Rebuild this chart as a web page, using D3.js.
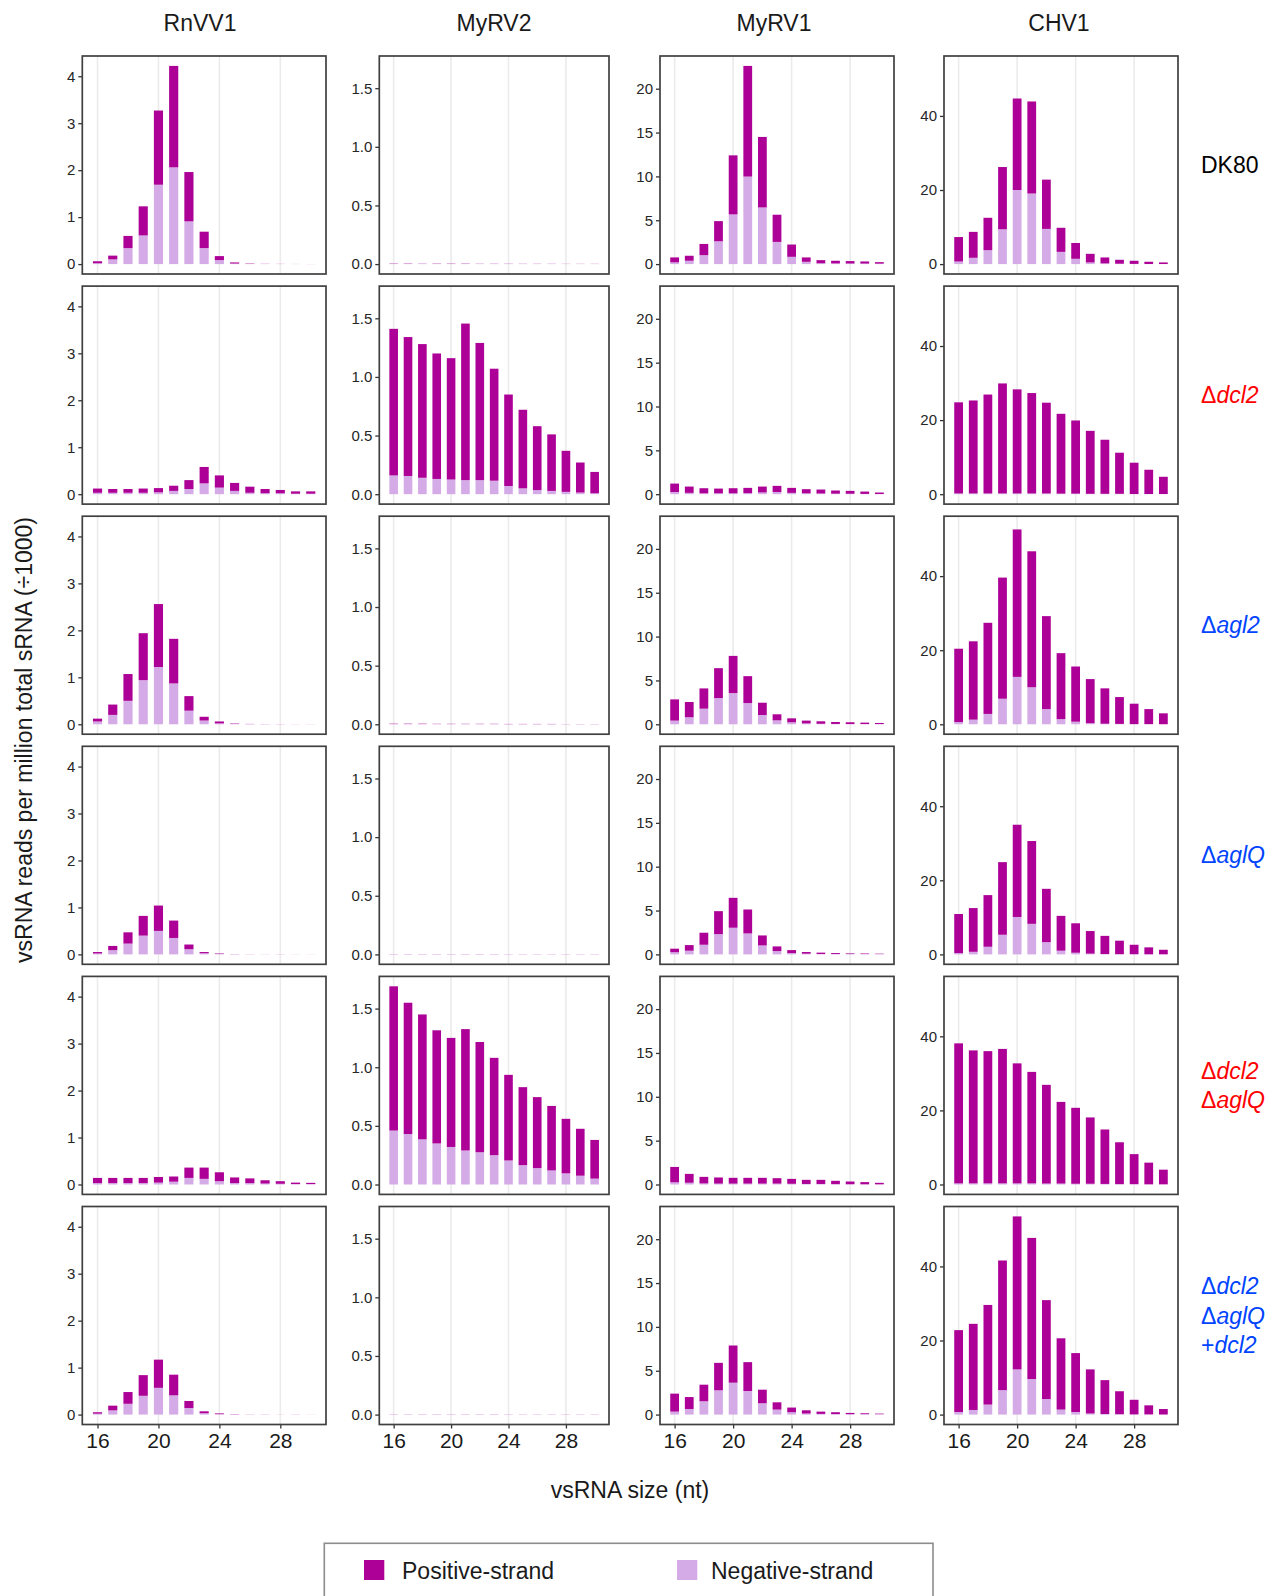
<!DOCTYPE html>
<html>
<head>
<meta charset="utf-8">
<script src="https://cdn.jsdelivr.net/npm/d3@7"></script>
<style>
  body { margin: 0; background: #fff; }
  text { font-family: "Liberation Sans", Arial, sans-serif; }
</style>
</head>
<body>
<svg id="chart" width="1285" height="1596"></svg>
<script>
// sizes on the x axis (nt)
const sizes = [16, 17, 18, 19, 20, 21, 22, 23, 24, 25, 26, 27, 28, 29, 30]
const xTicks = [16, 20, 24, 28]
const viruses = ['RnVV1', 'MyRV2', 'MyRV1', 'CHV1']
const strains = ['DK80', 'Δdcl2', 'Δagl2', 'ΔaglQ', 'Δdcl2 ΔaglQ', 'Δdcl2 ΔaglQ +dcl2']
const strainColors = ['#000000', '#ff0000', '#0044ff', '#0044ff', '#ff0000', '#0044ff']
const yTicks = [[0, 1, 2, 3, 4], [0, 0.5, 1, 1.5], [0, 5, 10, 15, 20], [0, 20, 40]]

// total height of each stacked bar (positive + negative), one row per strain
const RnVV1_total = [
  [0.06, 0.18, 0.6, 1.23, 3.27, 4.22, 1.96, 0.69, 0.17, 0.035, 0.012, 0.006, 0.004, 0.003, 0.002],
  [0.12, 0.11, 0.11, 0.12, 0.13, 0.18, 0.30, 0.58, 0.40, 0.24, 0.16, 0.11, 0.09, 0.06, 0.06],
  [0.12, 0.42, 1.07, 1.94, 2.56, 1.82, 0.6, 0.16, 0.06, 0.015, 0.008, 0.005, 0.004, 0.003, 0.003],
  [0.05, 0.18, 0.47, 0.82, 1.04, 0.72, 0.21, 0.05, 0.02, 0.006, 0.004, 0.003, 0.003, 0.002, 0.002],
  [0.14, 0.14, 0.14, 0.14, 0.16, 0.17, 0.36, 0.36, 0.26, 0.15, 0.13, 0.09, 0.07, 0.04, 0.035],
  [0.05, 0.19, 0.48, 0.84, 1.17, 0.85, 0.29, 0.07, 0.025, 0.01, 0.005, 0.004, 0.003, 0.003, 0.002]
]
const RnVV1_neg = [
  [0.02, 0.1, 0.34, 0.61, 1.69, 2.06, 0.91, 0.34, 0.085, 0.012, 0.005, 0.003, 0.002, 0.002, 0.001],
  [0.03, 0.03, 0.03, 0.03, 0.04, 0.07, 0.11, 0.23, 0.14, 0.07, 0.03, 0.02, 0.02, 0.01, 0.01],
  [0.06, 0.2, 0.5, 0.94, 1.22, 0.87, 0.29, 0.08, 0.02, 0.006, 0.004, 0.003, 0.002, 0.002, 0.002],
  [0.02, 0.09, 0.23, 0.4, 0.5, 0.35, 0.11, 0.025, 0.01, 0.003, 0.002, 0.002, 0.001, 0.001, 0.001],
  [0.03, 0.03, 0.03, 0.03, 0.04, 0.06, 0.14, 0.12, 0.07, 0.03, 0.03, 0.02, 0.015, 0.01, 0.01],
  [0.02, 0.09, 0.23, 0.4, 0.57, 0.41, 0.14, 0.03, 0.01, 0.005, 0.003, 0.002, 0.002, 0.001, 0.001]
]
const MyRV2_total = [
  [0.006, 0.006, 0.005, 0.005, 0.005, 0.005, 0.004, 0.004, 0.004, 0.003, 0.003, 0.003, 0.002, 0.002, 0.002],
  [1.41, 1.34, 1.28, 1.20, 1.16, 1.455, 1.29, 1.07, 0.85, 0.72, 0.58, 0.51, 0.37, 0.27, 0.19],
  [0.005, 0.005, 0.005, 0.004, 0.004, 0.004, 0.004, 0.004, 0.003, 0.003, 0.003, 0.003, 0.002, 0.002, 0.002],
  [0.003, 0.003, 0.003, 0.003, 0.003, 0.003, 0.003, 0.003, 0.002, 0.002, 0.002, 0.002, 0.002, 0.002, 0.002],
  [1.69, 1.55, 1.45, 1.315, 1.25, 1.325, 1.215, 1.08, 0.935, 0.83, 0.745, 0.67, 0.56, 0.475, 0.38],
  [0.003, 0.003, 0.003, 0.003, 0.003, 0.003, 0.003, 0.003, 0.002, 0.002, 0.002, 0.002, 0.002, 0.002, 0.002]
]
const MyRV2_neg = [
  [0.004, 0.004, 0.004, 0.003, 0.003, 0.003, 0.003, 0.003, 0.003, 0.002, 0.002, 0.002, 0.001, 0.001, 0.001],
  [0.16, 0.155, 0.14, 0.13, 0.125, 0.12, 0.12, 0.115, 0.07, 0.05, 0.035, 0.028, 0.02, 0.014, 0.008],
  [0.002, 0.002, 0.002, 0.002, 0.002, 0.002, 0.002, 0.002, 0.001, 0.001, 0.001, 0.001, 0.001, 0.001, 0.001],
  [0.002, 0.002, 0.002, 0.002, 0.002, 0.002, 0.002, 0.002, 0.001, 0.001, 0.001, 0.001, 0.001, 0.001, 0.001],
  [0.46, 0.43, 0.385, 0.35, 0.32, 0.29, 0.275, 0.25, 0.205, 0.165, 0.14, 0.12, 0.095, 0.075, 0.05],
  [0.002, 0.002, 0.002, 0.002, 0.002, 0.002, 0.002, 0.002, 0.001, 0.001, 0.001, 0.001, 0.001, 0.001, 0.001]
]
const MyRV1_total = [
  [0.76, 0.95, 2.3, 4.9, 12.4, 22.6, 14.5, 5.63, 2.23, 0.76, 0.45, 0.38, 0.34, 0.3, 0.22],
  [1.21, 0.87, 0.68, 0.64, 0.68, 0.72, 0.87, 0.95, 0.72, 0.57, 0.53, 0.42, 0.38, 0.3, 0.19],
  [2.84, 2.54, 4.09, 6.4, 7.8, 5.49, 2.46, 1.14, 0.68, 0.42, 0.34, 0.26, 0.23, 0.19, 0.15],
  [0.65, 1.06, 2.47, 4.93, 6.45, 5.12, 2.16, 0.91, 0.49, 0.27, 0.2, 0.15, 0.11, 0.1, 0.08],
  [2.0, 1.21, 0.87, 0.8, 0.76, 0.76, 0.76, 0.72, 0.64, 0.53, 0.53, 0.42, 0.34, 0.27, 0.19],
  [2.39, 2.0, 3.41, 5.9, 7.88, 5.98, 2.84, 1.4, 0.8, 0.49, 0.34, 0.27, 0.19, 0.15, 0.11]
]
const MyRV1_neg = [
  [0.2, 0.38, 1.02, 2.6, 5.67, 9.98, 6.46, 2.53, 0.83, 0.26, 0.1, 0.08, 0.07, 0.06, 0.05],
  [0.25, 0.15, 0.1, 0.1, 0.1, 0.12, 0.2, 0.25, 0.15, 0.1, 0.08, 0.06, 0.05, 0.03, 0.02],
  [0.42, 0.8, 1.78, 2.99, 3.56, 2.42, 1.06, 0.45, 0.23, 0.1, 0.06, 0.04, 0.03, 0.03, 0.03],
  [0.25, 0.42, 1.1, 2.31, 3.04, 2.39, 1.02, 0.38, 0.15, 0.08, 0.05, 0.04, 0.04, 0.04, 0.04],
  [0.25, 0.2, 0.12, 0.1, 0.1, 0.1, 0.1, 0.1, 0.08, 0.06, 0.06, 0.04, 0.03, 0.02, 0.02],
  [0.34, 0.64, 1.52, 2.77, 3.64, 2.69, 1.29, 0.57, 0.27, 0.12, 0.08, 0.06, 0.05, 0.05, 0.05]
]
const CHV1_total = [
  [7.3, 8.7, 12.5, 26.2, 44.7, 43.9, 22.8, 9.8, 5.7, 2.77, 1.79, 1.16, 0.9, 0.63, 0.45],
  [24.8, 25.3, 26.9, 29.9, 28.3, 27.3, 24.7, 21.7, 19.9, 17.1, 14.7, 11.2, 8.5, 6.6, 4.7],
  [20.4, 22.4, 27.4, 39.6, 52.6, 46.7, 29.2, 19.2, 15.6, 12.2, 9.7, 7.35, 5.56, 4.1, 2.96],
  [10.9, 12.5, 16.0, 24.9, 35.0, 30.6, 17.7, 10.4, 8.4, 6.3, 5.0, 3.7, 2.6, 1.9, 1.25],
  [38.1, 36.2, 36.0, 36.6, 32.7, 30.4, 26.9, 22.3, 20.7, 18.1, 14.85, 11.4, 8.2, 5.9, 4.0],
  [22.8, 24.5, 29.6, 41.6, 53.5, 47.7, 30.9, 20.6, 16.6, 12.2, 9.3, 6.3, 4.0, 2.5, 1.5]
]
const CHV1_neg = [
  [0.7, 1.7, 3.76, 9.4, 20.0, 19.05, 9.5, 3.3, 1.43, 0.45, 0.2, 0.1, 0.05, 0.03, 0.02],
  [0.2, 0.2, 0.2, 0.2, 0.2, 0.2, 0.2, 0.15, 0.15, 0.1, 0.1, 0.1, 0.05, 0.05, 0.05],
  [0.6, 1.25, 2.8, 6.9, 12.8, 10.0, 4.1, 1.4, 0.7, 0.3, 0.15, 0.1, 0.05, 0.05, 0.02],
  [0.35, 0.7, 2.06, 5.3, 10.1, 8.25, 3.3, 1.0, 0.45, 0.2, 0.1, 0.05, 0.05, 0.02, 0.02],
  [0.3, 0.3, 0.3, 0.3, 0.3, 0.3, 0.25, 0.25, 0.2, 0.2, 0.15, 0.1, 0.1, 0.05, 0.05],
  [0.7, 1.25, 2.7, 6.6, 12.2, 9.6, 4.2, 1.35, 0.7, 0.3, 0.15, 0.1, 0.05, 0.05, 0.02]
]

const totals = [RnVV1_total, MyRV2_total, MyRV1_total, CHV1_total]
const negs = [RnVV1_neg, MyRV2_neg, MyRV1_neg, CHV1_neg]

const posColor = '#ac0096'
const negColor = '#d5abe7'

// panel layout (pixels)
const colX = [[82.3, 326], [379.3, 609], [660, 894], [944, 1178]]
const titleX = [200, 494, 774, 1059]
const rowTop0 = 56, rowStep = 230.1, panelH = 218

const svg = d3.select('#chart')

viruses.forEach((virus, c) => {
  const [x0, x1] = colX[c]
  const x = d3.scaleLinear().domain([15, 31]).range([x0, x1])
  const ymax = d3.max(totals[c].flat())
  const bw = x(16.3) - x(15.7)

  // column title
  svg.append('text')
    .attr('x', titleX[c]).attr('y', 31)
    .attr('text-anchor', 'middle')
    .attr('font-size', 23).attr('fill', '#1a1a1a')
    .text(virus)

  strains.forEach((strain, r) => {
    const top = rowTop0 + r * rowStep
    const y = d3.scaleLinear().domain([-0.05 * ymax, 1.05 * ymax]).range([top + panelH, top])
    const g = svg.append('g')

    // vertical grid
    g.selectAll('line.grid').data(xTicks).join('line')
      .attr('x1', d => x(d)).attr('x2', d => x(d))
      .attr('y1', top).attr('y2', top + panelH)
      .attr('stroke', '#ebebeb').attr('stroke-width', 1.6)

    const rows = sizes.map((s, i) => ({ s, tot: totals[c][r][i], neg: negs[c][r][i] }))
    // negative strand at bottom
    g.selectAll('rect.neg').data(rows).join('rect')
      .attr('x', d => x(d.s) - bw / 2).attr('width', bw)
      .attr('y', d => y(d.neg)).attr('height', d => y(0) - y(d.neg))
      .attr('fill', negColor)
    // positive strand stacked on top
    g.selectAll('rect.pos').data(rows).join('rect')
      .attr('x', d => x(d.s) - bw / 2).attr('width', bw)
      .attr('y', d => y(d.tot)).attr('height', d => y(d.neg) - y(d.tot))
      .attr('fill', posColor)

    // y axis
    const yAxis = g.append('g')
      .attr('transform', `translate(${x0},0)`)
      .call(d3.axisLeft(y).tickValues(yTicks[c]).tickSize(4).tickPadding(3)
        .tickFormat(c === 1 ? d3.format('.1f') : d3.format('d')))
    yAxis.select('.domain').remove()
    yAxis.selectAll('line').attr('stroke', '#333').attr('stroke-width', 1.3)
    yAxis.selectAll('text').attr('font-size', 15).attr('fill', '#262626')
      .attr('font-family', '"Liberation Sans", Arial, sans-serif')

    // x axis only on the bottom row
    if (r === strains.length - 1) {
      const xAxis = g.append('g')
        .attr('transform', `translate(0,${top + panelH})`)
        .call(d3.axisBottom(x).tickValues(xTicks).tickSize(4).tickPadding(5))
      xAxis.select('.domain').remove()
      xAxis.selectAll('line').attr('stroke', '#333').attr('stroke-width', 1.3)
      xAxis.selectAll('text').attr('font-size', 21).attr('fill', '#1a1a1a')
        .attr('font-family', '"Liberation Sans", Arial, sans-serif')
    }

    // panel border
    g.append('rect')
      .attr('x', x0).attr('y', top).attr('width', x1 - x0).attr('height', panelH)
      .attr('fill', 'none').attr('stroke', '#404040').attr('stroke-width', 1.7)
  })
})

// row (strain) labels
strains.forEach((strain, r) => {
  const cy = rowTop0 + r * rowStep + panelH / 2
  const lines = strain.split(' ')
  const t = svg.append('text')
    .attr('x', 1201).attr('font-size', 23)
    .attr('fill', strainColors[r])
  lines.forEach((ln, i) => {
    const ty = cy + (i - (lines.length - 1) / 2) * 29.5 + 8
    if (r === 0) {
      t.append('tspan').attr('x', 1201).attr('y', ty).text(ln)
      return
    }
    const head = ln[0]
    t.append('tspan').attr('x', 1201).attr('y', ty).text(head)
    t.append('tspan').attr('font-style', 'italic').text(ln.slice(1))
  })
})

// axis titles
svg.append('text')
  .attr('x', 630).attr('y', 1498)
  .attr('text-anchor', 'middle').attr('font-size', 23).attr('fill', '#1a1a1a')
  .text('vsRNA size (nt)')
svg.append('text')
  .attr('transform', 'translate(32,740) rotate(-90)')
  .attr('text-anchor', 'middle').attr('font-size', 23).attr('fill', '#1a1a1a')
  .text('vsRNA reads per million total sRNA (÷1000)')

// legend
const leg = svg.append('g')
leg.append('rect')
  .attr('x', 324.3).attr('y', 1543.3).attr('width', 608.7).attr('height', 80)
  .attr('fill', '#fff').attr('stroke', '#8c8c8c').attr('stroke-width', 1.6)
const legItems = [
  { label: 'Positive-strand', color: posColor, sx: 364, tx: 402 },
  { label: 'Negative-strand', color: negColor, sx: 677, tx: 711 }
]
legItems.forEach(d => {
  leg.append('rect').attr('x', d.sx).attr('y', 1560).attr('width', 20.3).attr('height', 20)
    .attr('fill', d.color)
  leg.append('text').attr('x', d.tx).attr('y', 1579)
    .attr('font-size', 23).attr('fill', '#1a1a1a').text(d.label)
})
</script>
</body>
</html>
